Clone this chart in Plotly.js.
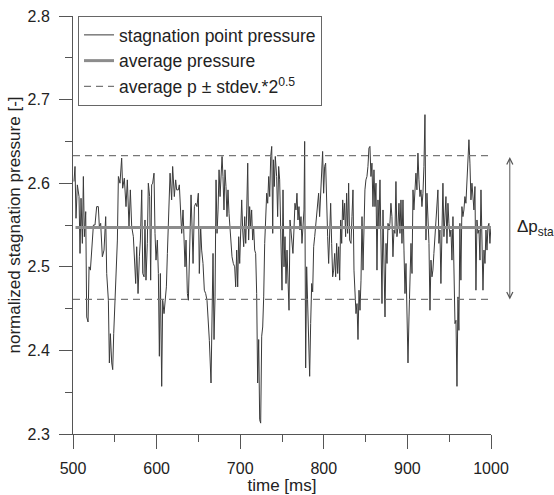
<!DOCTYPE html>
<html>
<head>
<meta charset="utf-8">
<script src="https://cdn.plot.ly/plotly-3.0.1.min.js"></script>
<style>
html,body{margin:0;padding:0;background:#fff;}
#chart{width:554px;height:495px;}
</style>
</head>
<body>
<div id="chart"></div>
<script>
// time [ms]
const time = [
501.2,502.4,503.6,505.2,507.2,508.4,509.6,511.2,512.4,513.6,515.2,516.4,518.0,519.2,520.8,522.4,524.4,526.3,528.3,530.3,
531.5,533.1,535.1,537.1,539.1,540.3,542.3,543.5,544.7,546.3,547.5,548.7,550.3,551.5,553.1,554.3,556.2,558.2,559.4,561.4,
563.4,565.0,567.0,568.6,570.2,572.2,573.4,575.0,576.2,577.8,579.4,580.6,582.2,583.4,585.0,586.1,587.3,588.9,590.1,591.7,
592.9,594.1,595.3,596.9,598.1,599.3,600.9,602.1,603.3,604.5,606.1,607.3,608.9,610.1,611.7,612.9,614.1,616.1,618.0,619.2,
621.2,622.8,624.0,626.0,627.2,628.8,630.0,631.6,632.8,634.0,635.2,636.8,638.0,639.6,641.2,642.4,643.6,645.2,646.8,648.3,
649.9,651.1,652.7,653.9,655.5,657.1,658.7,660.3,661.9,663.1,
665.1,666.3,667.5,668.7,669.9,671.1,672.3,673.5,674.7,675.9,677.1,678.3,679.4,680.6,681.8,683.0,684.2,685.4,686.6,687.8,
689.0,690.2,691.8,693.4,694.6,695.8,697.0,698.2,699.4,700.6,701.8,703.0,704.2,705.4,706.6,707.8,709.0,710.1,711.3,712.5,
713.7,714.9,716.1,717.3,718.5,719.7,720.9,722.1,723.3,724.5,725.7,726.9,728.1,729.3,730.5,731.7,732.9,734.1,735.3,736.5,
737.7,738.9,739.7,740.8,742.0,743.6,744.8,746.0,747.2,
748.8,750.0,751.2,752.4,753.6,754.8,756.0,757.2,758.4,759.6,760.8,761.9,763.1,764.3,765.5,766.7,767.9,769.1,770.3,771.5,
772.7,773.9,775.1,776.3,777.1,778.3,779.5,780.7,781.9,783.1,784.3,785.5,786.7,787.9,789.1,790.3,791.5,792.7,793.8,795.0,
796.2,797.4,798.6,799.8,801.0,802.2,803.4,804.6,805.8,807.0,808.2,809.4,810.6,811.8,813.0,814.2,815.4,816.6,817.8,819.0,
820.2,821.4,822.6,823.8,824.9,826.1,827.3,828.5,829.7,830.9,
832.5,833.7,834.9,836.1,837.3,838.5,839.7,840.9,842.1,843.3,844.5,845.7,846.9,848.0,849.2,850.4,851.6,852.8,854.0,855.2,
856.4,857.6,858.8,860.0,861.2,862.4,863.6,864.8,866.0,867.2,868.4,869.6,870.8,872.0,873.2,874.4,875.6,876.8,878.0,879.1,
880.3,881.5,882.7,883.9,885.1,886.3,887.5,888.7,889.9,891.1,892.3,893.5,894.7,895.9,897.1,898.3,899.5,900.7,901.9,903.1,
904.3,905.5,906.7,907.8,909.0,910.2,911.4,912.6,913.8,915.0,
916.2,917.4,918.6,919.8,921.0,922.2,923.4,924.6,925.8,927.0,928.2,929.4,930.5,931.7,932.9,934.1,935.3,936.5,937.7,938.9,
940.1,941.3,942.5,943.7,944.9,946.1,947.3,948.5,949.7,950.9,952.1,953.3,954.5,955.7,956.9,958.1,959.3,960.5,961.6,962.8,
964.0,965.2,966.4,967.6,968.8,970.0,971.2,972.4,973.6,974.8,976.0,977.2,978.4,979.6,980.8,982.0,983.2,984.4,985.6,986.8,
988.0,989.2,990.4,991.6,992.8,994.0,995.2,996.3,997.5,998.7,999.9
];
// normalized stagnation pressure [-]
const pressure = [
2.602,2.620,2.558,2.598,2.584,2.516,2.582,2.528,2.608,2.536,2.566,2.440,2.434,2.500,2.496,2.524,2.550,2.550,2.572,2.572,
2.548,2.552,2.512,2.520,2.560,2.492,2.460,2.385,2.420,2.385,2.377,2.420,2.464,2.508,2.532,2.608,2.600,2.630,2.594,2.606,
2.572,2.604,2.548,2.592,2.548,2.536,2.512,2.480,2.524,2.468,2.512,2.532,2.592,2.492,2.488,2.556,2.484,2.528,2.600,2.584,
2.484,2.598,2.600,2.612,2.540,2.508,2.532,2.492,2.393,2.492,2.357,2.460,2.444,2.460,2.476,2.516,2.560,2.612,2.580,2.620,
2.584,2.604,2.592,2.592,2.598,2.572,2.540,2.568,2.532,2.500,2.532,2.468,2.460,2.532,2.586,2.548,2.504,2.572,2.576,2.572,
2.588,2.492,2.548,2.520,2.504,2.472,2.468,2.460,2.436,2.412,
2.361,2.448,2.516,2.413,2.464,2.604,2.540,2.568,2.616,2.584,2.620,2.632,2.608,2.568,2.616,2.596,2.560,2.592,2.564,2.548,
2.532,2.512,2.504,2.500,2.476,2.520,2.476,2.536,2.504,2.548,2.580,2.544,2.524,2.560,2.528,2.568,2.624,2.532,2.572,2.548,
2.568,2.532,2.548,2.520,2.516,2.468,2.361,2.413,2.317,2.313,2.417,2.428,2.464,2.528,2.568,2.588,2.576,2.608,2.584,2.632,
2.644,2.540,2.628,2.596,2.632,2.608,2.560,2.620,2.604,
2.516,2.472,2.592,2.500,2.536,2.480,2.520,2.488,2.448,2.556,2.540,2.536,2.516,2.544,2.576,2.568,2.588,2.556,2.572,2.544,
2.560,2.528,2.544,2.568,2.650,2.379,2.500,2.448,2.408,2.369,2.432,2.480,2.470,2.524,2.536,2.552,2.568,2.584,2.588,2.560,
2.588,2.608,2.638,2.588,2.620,2.624,2.556,2.536,2.504,2.560,2.576,2.528,2.488,2.496,2.516,2.488,2.528,2.492,2.524,2.484,
2.556,2.528,2.580,2.556,2.576,2.536,2.588,2.540,2.600,2.532,
2.528,2.560,2.592,2.496,2.460,2.444,2.456,2.413,2.472,2.448,2.484,2.560,2.496,2.548,2.592,2.604,2.608,2.620,2.642,2.644,
2.608,2.624,2.572,2.616,2.572,2.600,2.496,2.580,2.548,2.604,2.496,2.456,2.568,2.500,2.440,2.528,2.504,2.552,2.544,2.552,
2.576,2.560,2.512,2.544,2.540,2.602,2.536,2.548,2.576,2.540,2.580,2.528,2.580,2.520,2.468,2.504,2.436,2.385,2.440,2.476,
2.528,2.492,2.592,2.568,2.584,2.612,2.592,2.636,2.604,2.584,
2.592,2.572,2.588,2.620,2.682,2.532,2.588,2.556,2.528,2.448,2.508,2.488,2.496,2.516,2.536,2.556,2.576,2.592,2.528,2.544,
2.480,2.536,2.600,2.536,2.556,2.584,2.528,2.576,2.552,2.536,2.544,2.508,2.560,2.464,2.432,2.436,2.357,2.464,2.424,2.552,
2.484,2.572,2.560,2.568,2.584,2.576,2.608,2.620,2.652,2.624,2.580,2.600,2.588,2.568,2.596,2.472,2.556,2.540,2.544,2.508,
2.592,2.548,2.472,2.520,2.504,2.544,2.520,2.548,2.552,2.528,2.548
];
const avgTime = [503, 1000];
const avgP = 2.547;
const bandTime = [500, 1000];
const upperP = 2.633;
const lowerP = 2.461;
const seriesNames = ["stagnation point pressure", "average pressure", "average p ± stdev.*2<sup>0.5</sup>"];
const xTitle = "time [ms]";
const yTitle = "normalized stagnation pressure [-]";
const deltaLabel = "Δp<sub>stagnation</sub>";

const font = "Liberation Sans, Arial, sans-serif";

const traces = [
  {x: time, y: pressure, type: "scatter", mode: "lines", name: seriesNames[0],
   line: {color: "#3a3a3a", width: 1}},
  {x: avgTime, y: avgTime.map(() => avgP), type: "scatter", mode: "lines", name: seriesNames[1],
   line: {color: "#8c8c8c", width: 3}},
  {x: bandTime, y: bandTime.map(() => upperP), type: "scatter", mode: "lines", name: seriesNames[2],
   legendgroup: "band", line: {color: "#777", width: 1.2, dash: "7px,5px"}},
  {x: bandTime, y: bandTime.map(() => lowerP), type: "scatter", mode: "lines", name: seriesNames[2],
   legendgroup: "band", showlegend: false, line: {color: "#777", width: 1.2, dash: "7px,5px"}}
];

const layout = {
  width: 554, height: 495,
  margin: {l: 73, r: 63, t: 16, b: 61, pad: 0},
  paper_bgcolor: "#fff", plot_bgcolor: "#fff",
  font: {family: font, size: 16, color: "#222"},
  showlegend: true,
  legend: {x: 0.012, y: 1, xanchor: "left", yanchor: "top", bordercolor: "#666", borderwidth: 1,
           bgcolor: "#fff", font: {family: font, size: 17.5, color: "#222"}, tracegroupgap: 0},
  xaxis: {range: [500, 1000], tickvals: [500, 600, 700, 800, 900, 1000], ticks: "outside", ticklen: 14,
          tickcolor: "#555", tickwidth: 1, showline: true, linecolor: "#555", linewidth: 1,
          showgrid: false, zeroline: false, ticklabelstandoff: 6, tickfont: {family: font, size: 16, color: "#222"},
          minor: {dtick: 50, tick0: 500, ticks: "outside", ticklen: 7, tickcolor: "#555", showgrid: false},
          title: {text: xTitle, font: {family: font, size: 17, color: "#222"}, standoff: 4}},
  yaxis: {range: [2.3, 2.8], tickvals: [2.3, 2.4, 2.5, 2.6, 2.7, 2.8], ticktext: ["2.3","2.4","2.5","2.6","2.7","2.8"],
          ticks: "outside", ticklen: 13, tickcolor: "#555", tickwidth: 1, showline: true, linecolor: "#555",
          linewidth: 1, showgrid: false, zeroline: false, ticklabelstandoff: 6, tickfont: {family: font, size: 16, color: "#222"},
          minor: {dtick: 0.05, tick0: 2.3, ticks: "outside", ticklen: 7, tickcolor: "#555", showgrid: false},
          title: {text: yTitle, font: {family: font, size: 17, color: "#222"}, standoff: 2}},
  annotations: [
    {xref: "paper", yref: "y", x: 1.045, y: lowerP, axref: "pixel", ayref: "y", ax: 0, ay: upperP,
     showarrow: true, arrowhead: 5, startarrowhead: 5, arrowside: "end+start", arrowsize: 1.2,
     startarrowsize: 1.2, arrowwidth: 1, arrowcolor: "#555", text: ""},
    {xref: "paper", yref: "y", x: 1.057, y: avgP, xanchor: "left", yanchor: "middle", showarrow: false,
     text: deltaLabel, font: {family: font, size: 17, color: "#222"}}
  ]
};

Plotly.newPlot("chart", traces, layout, {displayModeBar: false, staticPlot: true});
</script>
</body>
</html>
